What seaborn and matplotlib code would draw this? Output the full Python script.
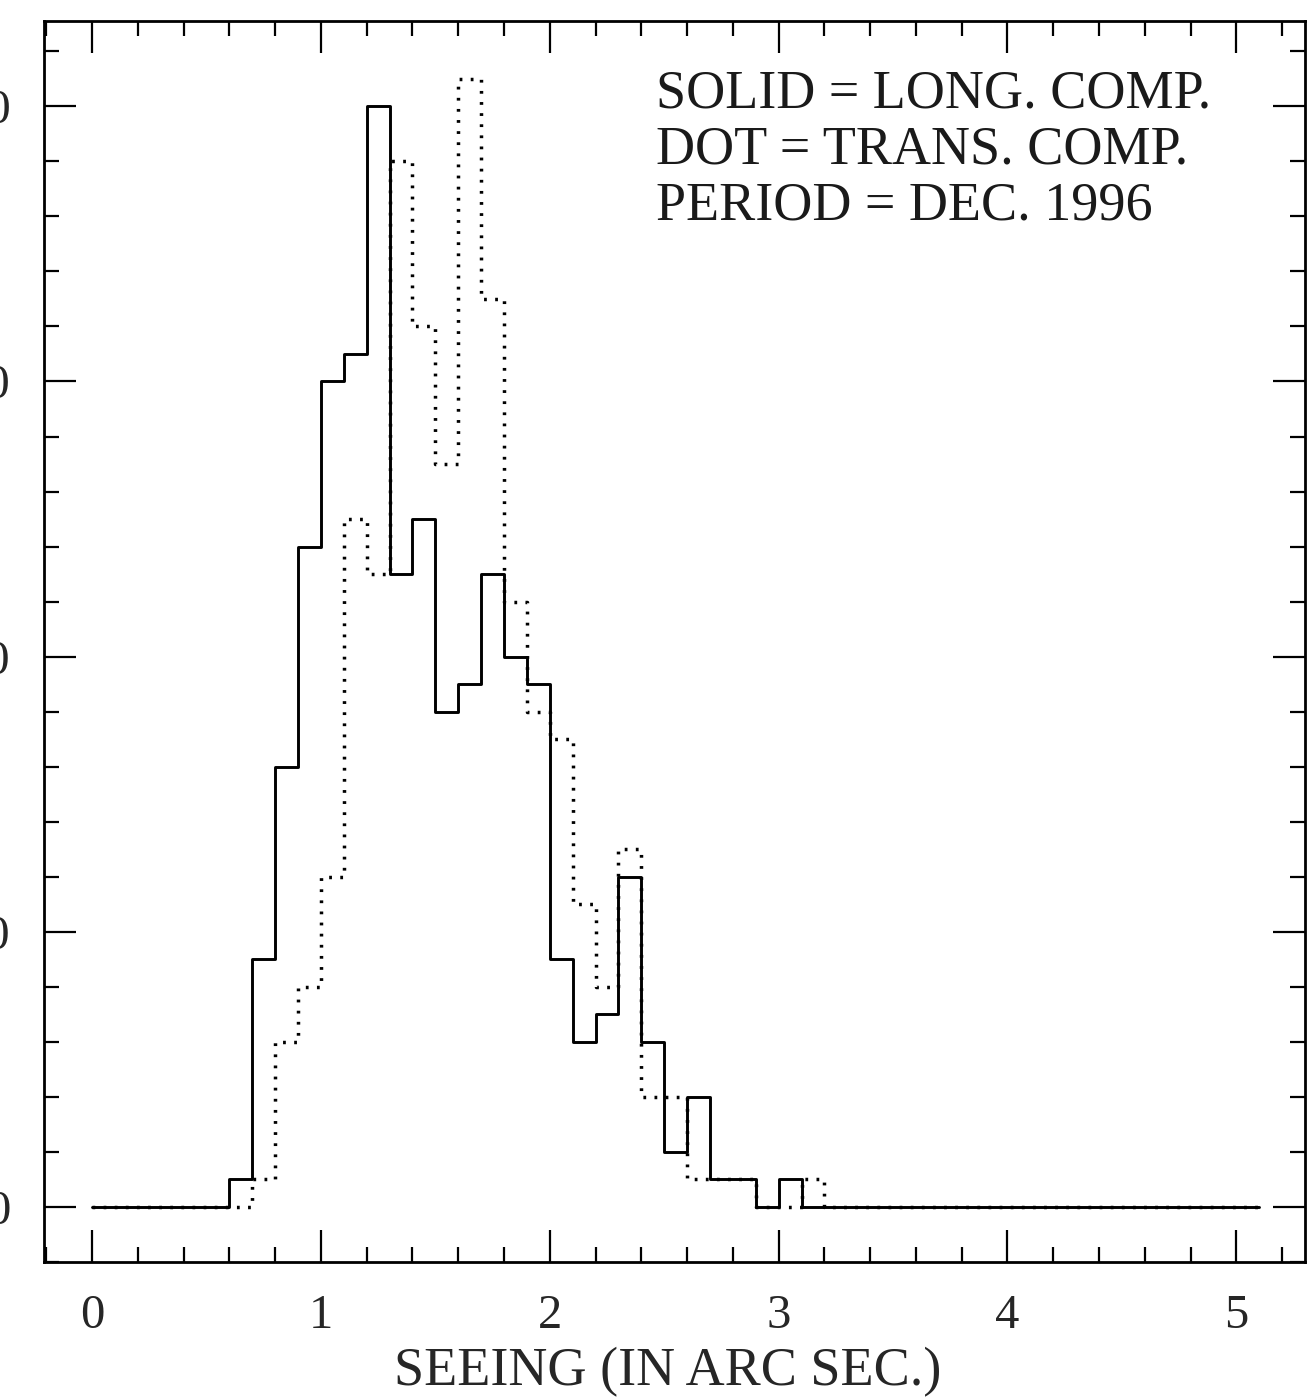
import numpy as np
import pandas as pd
import matplotlib
matplotlib.use("Agg")
import matplotlib.pyplot as plt
from matplotlib.ticker import MultipleLocator
import seaborn as sns

# Seeing histogram, 0.1 arcsec bins from 0.0 to 5.1 arcsec
bin_edges = [round(i * 0.1, 1) for i in range(52)]

# number of measurements per bin, longitudinal component (solid)
long_counts = [0, 0, 0, 0, 0, 0, 1, 9, 16, 24,
               30, 31, 40, 23, 25, 18, 19, 23, 20, 19,
               9, 6, 7, 12, 6, 2, 4, 1, 1, 0,
               1, 0, 0, 0, 0, 0, 0, 0, 0, 0,
               0, 0, 0, 0, 0, 0, 0, 0, 0, 0,
               0]

# transverse component (dotted)
trans_counts = [0, 0, 0, 0, 0, 0, 0, 1, 6, 8,
                12, 25, 23, 38, 32, 27, 41, 33, 22, 18,
                17, 11, 8, 13, 4, 4, 1, 1, 1, 0,
                0, 1, 0, 0, 0, 0, 0, 0, 0, 0,
                0, 0, 0, 0, 0, 0, 0, 0, 0, 0,
                0]

x_ticks = [0, 1, 2, 3, 4, 5]
y_ticks = [0, 10, 20, 30, 40]
legend_lines = ["SOLID = LONG. COMP.",
                "DOT = TRANS. COMP.",
                "PERIOD = DEC. 1996"]
x_title = "SEEING (IN ARC SEC.)"

df = pd.DataFrame({
    "seeing": np.array(bin_edges[:-1]) + 0.05,
    "long": long_counts,
    "trans": trans_counts,
})

sns.set_style("ticks")
plt.rcParams["font.family"] = ["Liberation Serif", "DejaVu Serif"]

W, H = 1313, 1398
fig = plt.figure(figsize=(W / 100, H / 100), dpi=100)
left, right, top, bottom = 44, 1305, 21, 1262
ax = fig.add_axes([left / W, 1 - bottom / H, (right - left) / W, (bottom - top) / H])

sns.histplot(data=df, x="seeing", weights="long", bins=bin_edges,
             element="step", fill=False, color="black", linewidth=2.1,
             ax=ax)
sns.histplot(data=df, x="seeing", weights="trans", bins=bin_edges,
             element="step", fill=False, color="black", linewidth=2.5,
             linestyle=(0, (0.8, 2.4)), ax=ax)

ax.set_xlim(-0.21, 5.3)
ax.set_ylim(-2, 43.1)

ax.xaxis.set_minor_locator(MultipleLocator(0.2))
ax.yaxis.set_minor_locator(MultipleLocator(2))
ax.set_xticks(x_ticks)
ax.set_xticklabels([str(v) for v in x_ticks])
ax.set_yticks(y_ticks)
ax.set_yticklabels([str(v) for v in y_ticks])

ax.tick_params(which="both", direction="in", top=True, right=True,
               color="black", width=1.6)
ax.tick_params(which="major", length=23)
ax.tick_params(which="minor", length=11)
ax.tick_params(axis="x", which="major", labelsize=35, pad=23)
ax.tick_params(axis="y", which="major", labelsize=35, pad=24)

for s in ax.spines.values():
    s.set_linewidth(2.0)
    s.set_color("black")
    s.set_visible(True)

ax.set_ylabel("")
ax.set_xlabel(x_title, fontsize=39)
ax.xaxis.set_label_coords((668 - left) / (right - left), -(1347 - bottom) / (bottom - top))

for i, line in enumerate(legend_lines):
    fig.text(656 / W, 1 - (108 + i * 56) / H, line, fontsize=39,
             ha="left", va="baseline", color="#1a1a1a")

fig.savefig("out.png", dpi=100, facecolor="white")
